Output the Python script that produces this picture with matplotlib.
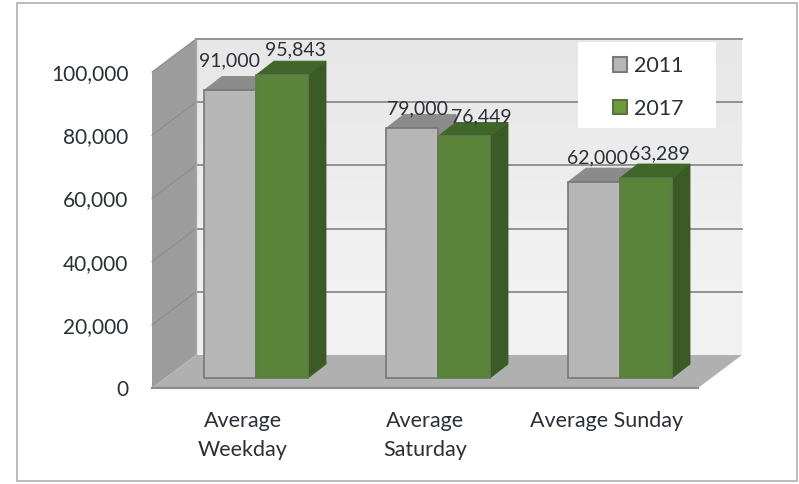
import numpy as np
import matplotlib
matplotlib.use("Agg")
import matplotlib.pyplot as plt
from matplotlib.patches import Polygon, Rectangle, Patch

categories = ["Average\nWeekday", "Average\nSaturday", "Average Sunday"]
years = ["2011", "2017"]
values_2011 = [91000, 79000, 62000]
values_2017 = [95843, 76449, 63289]
y_ticks = [0, 20000, 40000, 60000, 80000, 100000]

plt.rcParams['font.family'] = ['Lato', 'DejaVu Sans']
TEXT = "#2b2f36"

W, H = 799, 484
fig = plt.figure(figsize=(W / 100, H / 100), dpi=100, facecolor="white")
ax = fig.add_axes([152 / W, 1 - 388 / H, 546 / W, 316 / H])
ax.set_xlim(-0.5, 2.5)
ax.set_ylim(0, 100000)
ax.patch.set_visible(False)
for s in ax.spines.values():
    s.set_visible(False)

# depth of the fake 3d box, in data units
PX = 3 / 546
PY = 100000 / 316
dx, dy = 44 * PX, 33 * PY
x0, x1 = ax.get_xlim()
top = 100000


def poly(pts, fc, ec="none", lw=0, z=1):
    ax.add_patch(Polygon(pts, closed=True, fc=fc, ec=ec, lw=lw, zorder=z, clip_on=False))


def box(x, w, h, front, side, topc, edge):
    # front face sits a bit inside the floor
    bx, by = x + 13 * PX, 10 * PY
    ox, oy = 18 * PX, 14 * PY
    poly([(bx + w, by), (bx + w + ox, by + oy), (bx + w + ox, h + by + oy), (bx + w, h + by)], side, side, 0.6, 5)
    poly([(bx, h + by), (bx + ox, h + by + oy), (bx + w + ox, h + by + oy), (bx + w, h + by)], topc, topc, 0.6, 5)
    poly([(bx, by), (bx + w, by), (bx + w, h + by), (bx, h + by)], front, edge, 1.2, 6)


# back wall gradient
grad = np.array([[0.905], [0.915], [0.93], [0.94], [0.945]])
ax.imshow(grad, cmap="gray", vmin=0, vmax=1, aspect="auto", zorder=1, clip_on=False,
          extent=(x0 + dx, x1 + dx, dy, top + dy), interpolation="bicubic")
ax.set_xlim(x0, x1)
ax.set_ylim(0, top)

# left wall and floor
poly([(x0, 0), (x0 + dx, dy), (x0 + dx, top + dy), (x0, top)], "#9c9c9c", z=2)
poly([(x0, 0), (x1, 0), (x1 + dx, dy), (x0 + dx, dy)], "#b0b0b0", z=3)
ax.plot([x0, x1], [0, 0], color="#8c8c8c", lw=1.5, zorder=4, clip_on=False)

# gridlines
for t in y_ticks[1:]:
    ax.plot([x0 + dx, x1 + dx], [t + dy, t + dy], color="#8a8a8a", lw=1.3, zorder=2, clip_on=False)
    ax.plot([x0, x0 + dx], [t, t + dy], color="#8c8c8c", lw=0.8, zorder=2.5, clip_on=False)
ax.plot([x0 + dx, x0 + dx], [dy, top + dy], color="#a8a8a8", lw=1, zorder=2.5, clip_on=False)

# bars
bw = 52 * PX
x = np.arange(len(categories))
off_2011 = [(-1, 30), (6, 19), (4, 24)]
off_2017 = [(14, 25), (17, 20), (13, 24)]
for i in x:
    box(i - bw, bw, values_2011[i], "#b6b6b6", "#8a8a8a", "#8b8b8b", "#777777")
    box(i, bw, values_2017[i], "#5a8439", "#3b5a25", "#41662a", "#5f7a4c")
    for xc, v, off in ((i - bw / 2, values_2011[i], off_2011[i]), (i + bw / 2, values_2017[i], off_2017[i])):
        ax.annotate(f"{v:,}", (xc + 13 * PX, v + 10 * PY), xytext=off, textcoords="offset pixels",
                    ha="center", va="center", fontsize=14, color=TEXT, zorder=8, annotation_clip=False)

# axis labels
ax.set_yticks(y_ticks, [f"{t:,}" for t in y_ticks], fontsize=15, color=TEXT)
ax.set_xticks(x, categories, fontsize=15.5, color=TEXT, linespacing=1.55)
ax.tick_params(axis="y", length=0, pad=17)
ax.tick_params(axis="x", length=0, pad=16.5)

# legend box and entries
ax.add_patch(Rectangle((578 / W, 1 - 128 / H), 138 / W, 86 / H, transform=fig.transFigure,
                       fc="white", ec="none", zorder=8.5, clip_on=False))
handles = [Patch(fc="#b6b6b6", ec="#7a7a7a", lw=1.5), Patch(fc="#6f9a3c", ec="#5a7040", lw=1.5)]
leg = ax.legend(handles, years, loc="upper left", bbox_to_anchor=(613 / W, 1 - 56 / H),
                bbox_transform=fig.transFigure, borderaxespad=0, fontsize=15.5, handlelength=0.65,
                handleheight=0.65, handletextpad=0.32, labelspacing=1.06, borderpad=0,
                frameon=False)
leg.set_zorder(9)
for t in leg.get_texts():
    t.set_color(TEXT)

# picture frame
fig.add_artist(Rectangle((17 / W, 1 - 481 / H), 780 / W, 478 / H, transform=fig.transFigure,
                         fc="none", ec="#b5b5b5", lw=1.3))

fig.savefig("out.png", dpi=100)
